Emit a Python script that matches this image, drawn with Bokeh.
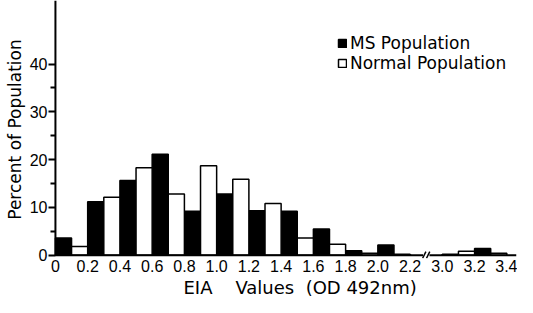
from bokeh.plotting import figure
from bokeh.models import FixedTicker, Range1d, Legend, LegendItem, ColumnDataSource
from bokeh.embed import file_html
from bokeh.resources import INLINE

# ---- data ----
bin_starts = [0.0, 0.2, 0.4, 0.6, 0.8, 1.0, 1.2, 1.4, 1.6, 1.8, 2.0, 3.0, 3.2]
ms_percent = [3.6, 11.2, 15.6, 21.1, 9.2, 12.8, 9.3, 9.2, 5.5, 0.9, 2.1, 0.2, 1.4]
normal_percent = [1.8, 12.1, 18.3, 12.8, 18.7, 15.9, 10.8, 3.6, 2.3, 0.4, 0.2, 0.8, 0.4]
x_tick_values = [0.0, 0.2, 0.4, 0.6, 0.8, 1.0, 1.2, 1.4, 1.6, 1.8, 2.0, 2.2, 3.0, 3.2, 3.4]
x_tick_labels = ["0", "0.2", "0.4", "0.6", "0.8", "1.0", "1.2", "1.4", "1.6", "1.8",
                 "2.0", "2.2", "3.0", "3.2", "3.4"]
y_tick_values = [0, 10, 20, 30, 40]
y_minor_ticks = [5, 15, 25, 35]
series_names = ["MS Population", "Normal Population"]
x_title = "EIA\u00a0\u00a0\u00a0 Values\u00a0 (OD 492nm)"
y_title = "Percent of Population"

BIN = 0.1
BREAK_FROM, BREAK_TO, BREAK_SHOWN = 2.2, 3.0, 0.2
X_MAX = 3.46
Y_MIN, Y_MAX = -0.7, 53.3


def pos(v):
    """map a real EIA value to the broken axis position"""
    if v <= BREAK_FROM + 1e-9:
        return round(v, 6)
    return round(v - (BREAK_TO - BREAK_FROM) + BREAK_SHOWN, 6)


p = figure(width=517, height=297, output_backend="svg", toolbar_location=None,
           x_range=Range1d(-0.012, pos(X_MAX)), y_range=Range1d(Y_MIN, Y_MAX),
           min_border_left=53, min_border_right=1, min_border_top=0, min_border_bottom=0,
           title=x_title, title_location="below")
p.outline_line_color = None
p.grid.visible = False
p.title.align = "left"
p.title.offset = 130
p.title.standoff = 0
p.title.text_font = "DejaVu Sans"
p.title.text_font_size = "18px"
p.title.text_font_style = "normal"
p.title.text_color = "black"

ms_src = ColumnDataSource(dict(x=[round(pos(b) + BIN / 2, 6) for b in bin_starts], top=ms_percent))
nm_src = ColumnDataSource(dict(x=[round(pos(b) + BIN * 1.5, 6) for b in bin_starts], top=normal_percent))

r_ms = p.vbar(x="x", top="top", bottom=0, width=BIN, fill_color="black",
              line_color="black", line_width=1.5, source=ms_src)
r_nm = p.vbar(x="x", top="top", bottom=0, width=BIN, fill_color="white",
              line_color="black", line_width=1.5, source=nm_src)

# axis lines drawn as glyphs (x axis has a break)
brk = pos(BREAK_FROM) + BREAK_SHOWN / 2
p.segment(x0=[0, brk + 0.02], y0=[0, 0], x1=[brk - 0.02, pos(X_MAX)], y1=[0, 0],
          line_color="black", line_width=2)
p.segment(x0=[0], y0=[0], x1=[0], y1=[Y_MAX], line_color="black", line_width=2)
p.segment(x0=[brk - 0.022, brk + 0.002], y0=[-0.65, -0.65], x1=[brk - 0.002, brk + 0.022],
          y1=[0.75, 0.75], line_color="black", line_width=1.5)

# x axis
p.xaxis.ticker = FixedTicker(ticks=[pos(v) for v in x_tick_values])
p.xaxis.major_label_overrides = {pos(v): lab for v, lab in zip(x_tick_values, x_tick_labels)}
p.xaxis.axis_line_color = None
p.xaxis.major_tick_out = 0
p.xaxis.major_tick_in = 0
p.xaxis.minor_tick_line_color = None
p.xaxis.major_label_standoff = 1
p.xaxis.major_label_text_font = "Liberation Sans"
p.xaxis.major_label_text_font_size = "16px"
p.xaxis.major_label_text_color = "black"

# y axis
p.yaxis.ticker = FixedTicker(ticks=y_tick_values, minor_ticks=y_minor_ticks)
p.yaxis.axis_line_color = None
p.yaxis.major_tick_out = 5
p.yaxis.major_tick_in = 2
p.yaxis.minor_tick_out = 3
p.yaxis.minor_tick_in = 2
p.yaxis.major_tick_line_width = 2
p.yaxis.minor_tick_line_width = 2
p.yaxis.major_tick_line_color = "black"
p.yaxis.minor_tick_line_color = "black"
p.yaxis.major_label_standoff = 1
p.yaxis.major_label_text_font = "Liberation Sans"
p.yaxis.major_label_text_font_size = "16px"
p.yaxis.major_label_text_color = "black"
p.yaxis.axis_label = y_title
p.yaxis.axis_label_text_font = "DejaVu Sans"
p.yaxis.axis_label_text_font_size = "17px"
p.yaxis.axis_label_text_font_style = "normal"
p.yaxis.axis_label_text_color = "black"
p.yaxis.axis_label_standoff = 2

legend = Legend(items=[LegendItem(label=series_names[0], renderers=[r_ms]),
                       LegendItem(label=series_names[1], renderers=[r_nm])],
                location=(284, 185), glyph_width=10, glyph_height=10, label_height=10,
                spacing=0, padding=0, margin=0, border_line_color=None,
                background_fill_alpha=0, label_text_font="DejaVu Sans",
                label_text_font_size="17px", label_text_color="black", label_standoff=3)
p.add_layout(legend)

open("out.html", "w").write(file_html(p, INLINE))
